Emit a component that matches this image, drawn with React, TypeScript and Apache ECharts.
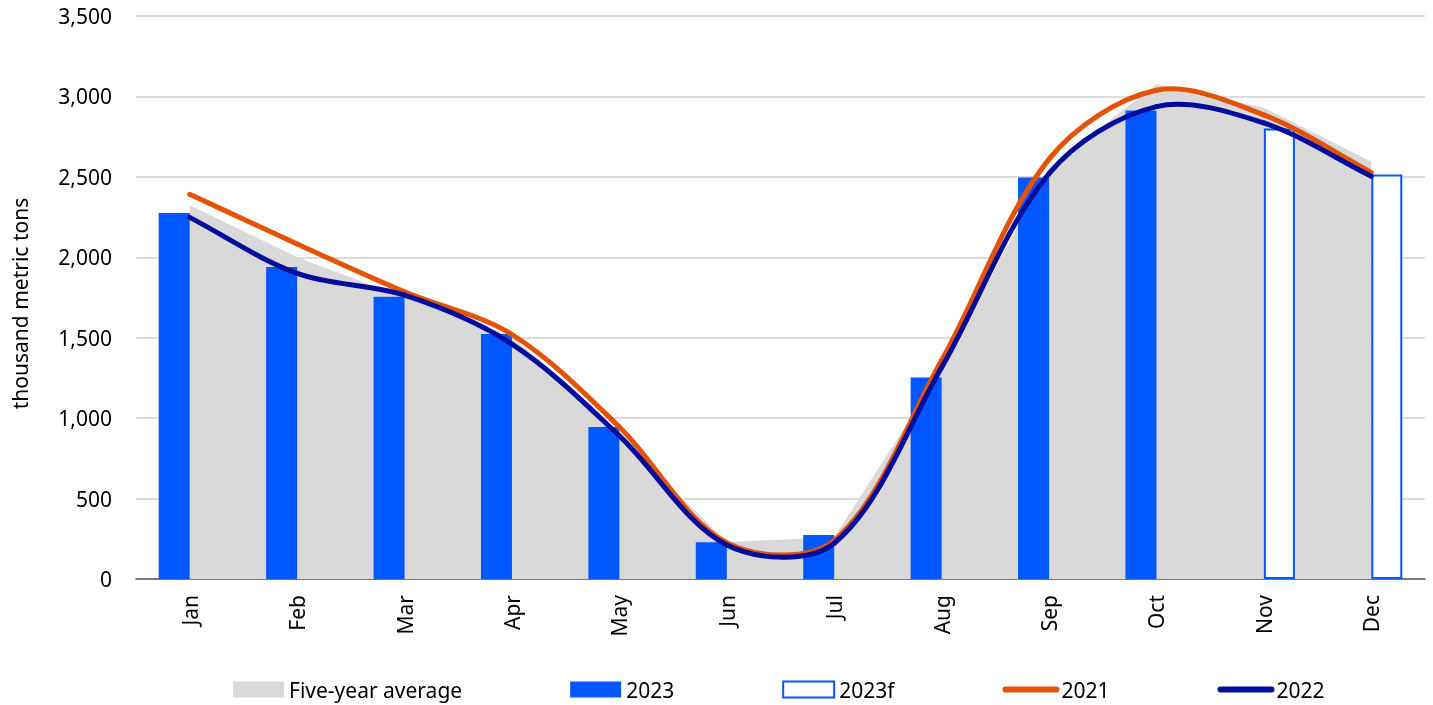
import React, { useEffect, useRef } from "react";
import * as echarts from "echarts";

const months = ["Jan", "Feb", "Mar", "Apr", "May", "Jun", "Jul", "Aug", "Sep", "Oct", "Nov", "Dec"];
const fiveYearAverage = [2325, 2000, 1750, 1510, 890, 230, 260, 1300, 2560, 3075, 2930, 2595];
const actual2023 = [2275, 1940, 1755, 1523, 945, 228, 273, 1252, 2496, 2913, null, null];
const forecast2023 = [null, null, null, null, null, null, null, null, null, null, 2800, 2514];
const values2021 = [2392, 2083, 1785, 1520, 945, 225, 240, 1360, 2610, 3038, 2885, 2528];
const values2022 = [2248, 1900, 1764, 1460, 890, 212, 222, 1315, 2520, 2937, 2835, 2504];

const FONT = "'Noto Sans', sans-serif";
const BLUE = "#0057ff";
const ORANGE = "#e35205";
const NAVY = "#000c9c";
const GRAY = "#d9d9d9";

type Pt = number[];
const dist = (a: Pt, b: Pt) => Math.hypot(b[0] - a[0], b[1] - a[1]);

function smoothSeries(name: string, values: number[], color: string) {
  const n = values.length;
  return {
    name,
    type: "custom",
    coordinateSystem: "cartesian2d",
    z: 5,
    data: values.map((v, i) => [i, v]),
    encode: { x: 0, y: 1 },
    renderItem: (params: any, api: any) => {
      const i = params.dataIndex;
      if (i >= n - 1) return { type: "group", children: [] };
      const pt = (k: number) => {
        const c = Math.max(0, Math.min(n - 1, k));
        return api.coord([c, values[c]]);
      };
      const p0 = pt(i - 1);
      const p1 = pt(i);
      const p2 = pt(i + 1);
      const p3 = pt(i + 2);
      const d01 = dist(p0, p1);
      const d12 = dist(p1, p2);
      const d23 = dist(p2, p3);
      const f = 1 / 3;
      const a = d01 + d12 > 0 ? (f * d12) / (d01 + d12) : 0;
      const b = d12 + d23 > 0 ? (f * d12) / (d12 + d23) : 0;
      return {
        type: "bezierCurve",
        shape: {
          x1: p1[0],
          y1: p1[1],
          x2: p2[0],
          y2: p2[1],
          cpx1: p1[0] + a * (p2[0] - p0[0]),
          cpy1: p1[1] + a * (p2[1] - p0[1]),
          cpx2: p2[0] - b * (p3[0] - p1[0]),
          cpy2: p2[1] - b * (p3[1] - p1[1]),
        },
        style: { stroke: color, lineWidth: 5, fill: null, lineCap: "round" },
      };
    },
  };
}

export default function App() {
  const ref = useRef<HTMLDivElement>(null);
  useEffect(() => {
    if (!ref.current) return;
    const chart = echarts.init(ref.current, undefined, { renderer: "svg" });
    chart.setOption({
      animation: false,
      textStyle: { fontFamily: FONT },
      grid: { left: 136, right: 8, top: 16, bottom: 126 },
      legend: {
        top: 674,
        left: 228,
        itemWidth: 51,
        itemHeight: 16,
        itemGap: 108,
        textStyle: { fontFamily: FONT, fontSize: 21, color: "#000" },
        data: [
          { name: "Five-year average", icon: "rect" },
          { name: "2023", icon: "rect" },
          { name: "2023f", icon: "rect" },
          { name: "2021", itemStyle: { opacity: 0 }, lineStyle: { width: 6, cap: "round" } },
          { name: "2022", itemStyle: { opacity: 0 }, lineStyle: { width: 6, cap: "round" } },
        ],
      },
      xAxis: {
        type: "category",
        data: months,
        boundaryGap: true,
        axisTick: { show: false },
        axisLine: { lineStyle: { color: "#595959", width: 1.5 } },
        axisLabel: { rotate: 90, fontSize: 21, color: "#000", margin: 16, fontFamily: FONT },
      },
      yAxis: {
        type: "value",
        min: 0,
        max: 3500,
        interval: 500,
        name: "thousand metric tons",
        nameLocation: "middle",
        nameGap: 106,
        nameTextStyle: { fontSize: 21, color: "#000", fontFamily: FONT, padding: [0, 12, 0, 0] },
        axisLabel: {
          fontSize: 21,
          color: "#000",
          margin: 24,
          fontFamily: FONT,
          formatter: (v: number) => v.toLocaleString("en-US"),
        },
        splitLine: { lineStyle: { color: "#dcdcdc", width: 2 } },
      },
      series: [
        {
          name: "Five-year average",
          type: "line",
          z: 1,
          data: fiveYearAverage,
          smooth: false,
          symbol: "none",
          lineStyle: { width: 0, color: GRAY },
          itemStyle: { color: GRAY },
          areaStyle: { color: GRAY, opacity: 1 },
        },
        {
          name: "2023",
          type: "bar",
          z: 3,
          data: actual2023,
          barWidth: 31,
          barGap: "0%",
          itemStyle: { color: BLUE },
        },
        {
          name: "2023f",
          type: "bar",
          z: 3,
          data: forecast2023,
          barWidth: 31,
          barGap: "0%",
          itemStyle: { color: "#ffffff", borderColor: BLUE, borderWidth: 2 },
        },
        {
          name: "2021",
          type: "line",
          data: [],
          symbol: "none",
          lineStyle: { width: 5, color: ORANGE, cap: "round" },
          itemStyle: { color: ORANGE },
        },
        {
          name: "2022",
          type: "line",
          data: [],
          symbol: "none",
          lineStyle: { width: 5, color: NAVY, cap: "round" },
          itemStyle: { color: NAVY },
        },
        smoothSeries("2021", values2021, ORANGE),
        smoothSeries("2022", values2022, NAVY),
      ],
    });
    return () => chart.dispose();
  }, []);
  return <div ref={ref} style={{ position: "fixed", left: 0, top: 0, width: 1433, height: 705 }} />;
}
